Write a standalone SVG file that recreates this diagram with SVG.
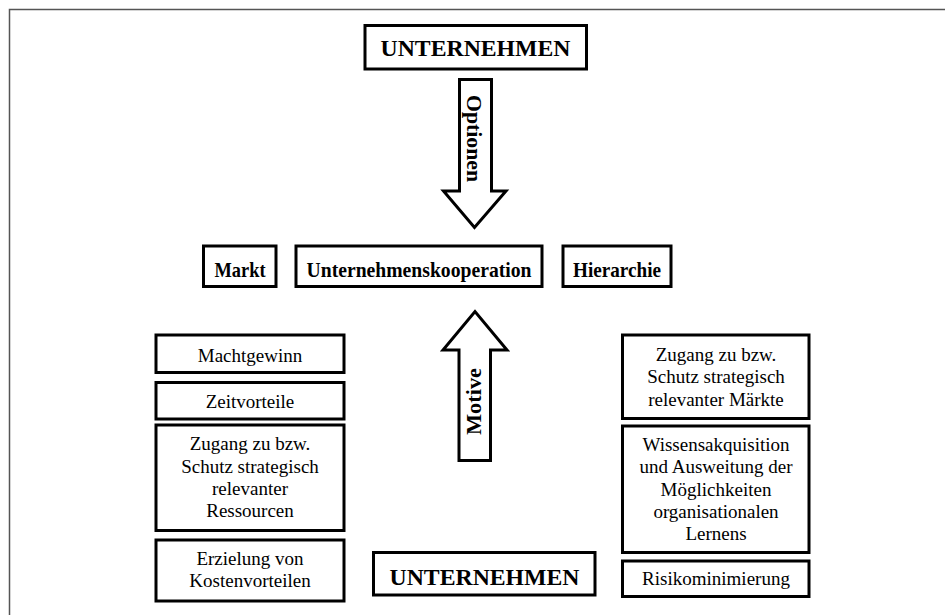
<svg xmlns="http://www.w3.org/2000/svg" width="945" height="615" viewBox="0 0 945 615">
<style>
.box{fill:#fff;stroke:#000;stroke-width:3}
.arrow{fill:#fff;stroke:#000;stroke-width:3;stroke-linejoin:miter}
.b{font-family:'Liberation Serif','Times New Roman','DejaVu Serif',serif;font-weight:bold;fill:#000;text-anchor:middle}
.r{font-family:'Liberation Serif','Times New Roman','DejaVu Serif',serif;font-size:19px;fill:#000;text-anchor:middle}
</style>
<rect width="945" height="615" fill="#fff"/>
<path d="M9.5,615 V9.5 H945" fill="none" stroke="#555" stroke-width="1.5"/>
<g id="connectors">
<path class="arrow" d="M459.5,79.5 H491.5 V191 H506 L474.5,227.5 L443.5,191 H459.5 Z"/>
<text class="b" font-size="22" transform="translate(467,138.5) rotate(90)" textLength="87" lengthAdjust="spacingAndGlyphs">Optionen</text>
<path class="arrow" d="M459,460.5 H490.5 V350 H507 L475,311.5 L443,350 H459 Z"/>
<text class="b" font-size="22" transform="translate(481,401.5) rotate(-90)" textLength="67" lengthAdjust="spacingAndGlyphs">Motive</text>
</g>
<g id="unternehmen-top">
<rect class="box" x="365" y="25.5" width="221.5" height="43.5"/>
<text class="b" x="475.5" y="56" font-size="24" textLength="190" lengthAdjust="spacingAndGlyphs">UNTERNEHMEN</text>
</g>
<g id="markt">
<rect class="box" x="203.5" y="246" width="72.5" height="40.5"/>
<text class="b" x="240" y="276.5" font-size="22" textLength="51" lengthAdjust="spacingAndGlyphs">Markt</text>
</g>
<g id="kooperation">
<rect class="box" x="296" y="246" width="246" height="40.5"/>
<text class="b" x="419" y="276.5" font-size="22" textLength="225" lengthAdjust="spacingAndGlyphs">Unternehmenskooperation</text>
</g>
<g id="hierarchie">
<rect class="box" x="563" y="246" width="108" height="40.5"/>
<text class="b" x="617" y="276.5" font-size="22" textLength="88" lengthAdjust="spacingAndGlyphs">Hierarchie</text>
</g>
<g id="machtgewinn">
<rect class="box" x="156" y="335" width="188" height="37.5"/>
<text class="r" x="250" y="361.5">Machtgewinn</text>
</g>
<g id="zeitvorteile">
<rect class="box" x="156" y="382.5" width="188" height="36.5"/>
<text class="r" x="250" y="407.5">Zeitvorteile</text>
</g>
<g id="ressourcen">
<rect class="box" x="156" y="425" width="188" height="105.5"/>
<text class="r" x="250" y="450">Zugang zu bzw.</text>
<text class="r" x="250" y="472.5">Schutz strategisch</text>
<text class="r" x="250" y="495">relevanter</text>
<text class="r" x="250" y="517">Ressourcen</text>
</g>
<g id="kostenvorteile">
<rect class="box" x="156" y="540" width="188" height="61"/>
<text class="r" x="250" y="565">Erzielung von</text>
<text class="r" x="250" y="587">Kostenvorteilen</text>
</g>
<g id="unternehmen-bottom">
<rect class="box" x="373.5" y="552.5" width="221.5" height="42.5"/>
<text class="b" x="484.5" y="585" font-size="24" textLength="190" lengthAdjust="spacingAndGlyphs">UNTERNEHMEN</text>
</g>
<g id="maerkte">
<rect class="box" x="622.5" y="335" width="186.5" height="83.5"/>
<text class="r" x="716" y="360.5">Zugang zu bzw.</text>
<text class="r" x="716" y="383">Schutz strategisch</text>
<text class="r" x="716" y="405.5">relevanter Märkte</text>
</g>
<g id="wissen">
<rect class="box" x="622.5" y="426" width="186.5" height="126.5"/>
<text class="r" x="716" y="450.5">Wissensakquisition</text>
<text class="r" x="716" y="473">und Ausweitung der</text>
<text class="r" x="716" y="495.5">Möglichkeiten</text>
<text class="r" x="716" y="518">organisationalen</text>
<text class="r" x="716" y="540">Lernens</text>
</g>
<g id="risiko">
<rect class="box" x="622.5" y="561" width="186.5" height="35.5"/>
<text class="r" x="716" y="585">Risikominimierung</text>
</g>
</svg>
